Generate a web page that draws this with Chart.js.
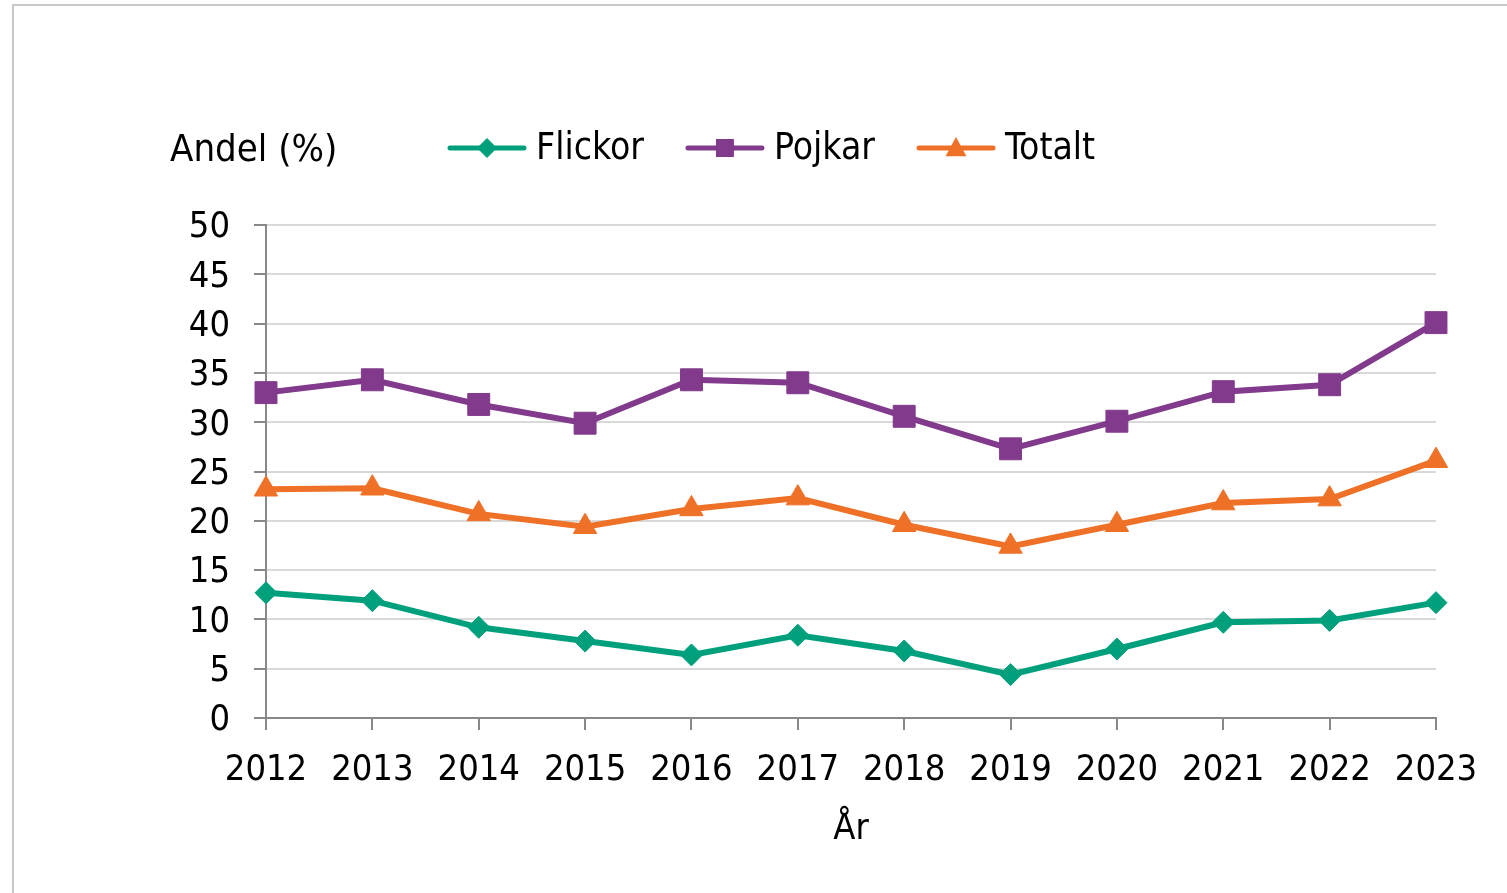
<!DOCTYPE html>
<html><head><meta charset="utf-8">
<script src="https://cdn.jsdelivr.net/npm/chart.js@4/dist/chart.umd.min.js"></script>
<style>
html,body{margin:0;padding:0;background:#fff;overflow:hidden}
#wrap{position:relative;width:1507px;height:893px;overflow:hidden}
#frame{position:absolute;left:12px;top:4px;width:1600px;height:1000px;border-left:2px solid #c8c8c8;border-top:2px solid #c8c8c8}
canvas{position:absolute;left:0;top:0}
</style></head><body>
<div id="wrap"><div id="frame"></div><canvas id="c" width="1507" height="893"></canvas></div>
<script>
const years = ['2012','2013','2014','2015','2016','2017','2018','2019','2020','2021','2022','2023'];
const flickor = [12.7, 11.9, 9.2, 7.8, 6.4, 8.4, 6.8, 4.4, 7.0, 9.7, 9.9, 11.7];
const pojkar  = [33.0, 34.3, 31.8, 29.9, 34.3, 34.0, 30.6, 27.3, 30.1, 33.1, 33.8, 40.1];
const totalt  = [23.2, 23.3, 20.7, 19.4, 21.2, 22.3, 19.6, 17.4, 19.6, 21.8, 22.2, 26.1];
const yTicks = [0, 5, 10, 15, 20, 25, 30, 35, 40, 45, 50];
const seriesNames = ['Flickor', 'Pojkar', 'Totalt'];
const yTitle = 'Andel (%)';
const xTitle = 'År';

const FONT = '"DejaVu Sans Condensed", "DejaVu Sans", Verdana, sans-serif';
const FS = 36;
const C_TEAL = '#00A07D', C_PURPLE = '#823A8C', C_ORANGE = '#EE7127';

function drawMarker(ctx, style, x, y, r, color) {
  ctx.fillStyle = color;
  ctx.beginPath();
  if (style === 'rectRot') {
    ctx.moveTo(x, y - r); ctx.lineTo(x + r, y); ctx.lineTo(x, y + r); ctx.lineTo(x - r, y);
  } else if (style === 'rect') {
    ctx.rect(x - r, y - r, 2 * r, 2 * r);
  } else if (style === 'triangle') {
    ctx.moveTo(x, y - r); ctx.lineTo(x + r * 0.95, y + r * 0.75); ctx.lineTo(x - r * 0.95, y + r * 0.75);
  }
  ctx.closePath();
  ctx.fill();
}

const legendPlugin = {
  id: 'customLegend',
  afterDraw(chart) {
    const ctx = chart.ctx;
    ctx.save();
    ctx.fillStyle = '#000';
    ctx.textBaseline = 'middle';
    ctx.textAlign = 'left';
    ctx.font = '38px ' + FONT;
    ctx.fillText(yTitle, 170, 151);
    ctx.font = '37px ' + FONT;
    let x = 447; const y = 148;
    const sizes = {rectRot: 10, rect: 9, triangle: 11};
    chart.data.datasets.forEach(ds => {
      ctx.strokeStyle = ds.borderColor; ctx.lineWidth = 5; ctx.lineCap = 'round';
      ctx.beginPath(); ctx.moveTo(x + 3, y); ctx.lineTo(x + 77, y); ctx.stroke();
      drawMarker(ctx, ds.pointStyle, x + 40, y, sizes[ds.pointStyle], ds.borderColor);
      ctx.fillStyle = '#000';
      ctx.fillText(ds.label, x + 89, y + 1);
      x += 89 + ctx.measureText(ds.label).width + 41;
    });
    ctx.restore();
  }
};

new Chart(document.getElementById('c'), {
  type: 'line',
  data: {
    labels: years,
    datasets: [
      {label: seriesNames[0], data: flickor, borderColor: C_TEAL, backgroundColor: C_TEAL, borderWidth: 6,
       pointStyle: 'rectRot', pointRadius: 11, pointBorderWidth: 1, tension: 0},
      {label: seriesNames[1], data: pojkar, borderColor: C_PURPLE, backgroundColor: C_PURPLE, borderWidth: 6,
       pointStyle: 'rect', pointRadius: 15.5, pointBorderWidth: 1, tension: 0},
      {label: seriesNames[2], data: totalt, borderColor: C_ORANGE, backgroundColor: C_ORANGE, borderWidth: 6,
       pointStyle: 'triangle', pointRadius: 13.5, pointBorderWidth: 1, tension: 0}
    ]
  },
  options: {
    responsive: false,
    animation: false,
    devicePixelRatio: 1,
    layout: {padding: {left: 0, right: 71, top: 225, bottom: 0}},
    plugins: {legend: {display: false}, tooltip: {enabled: false}, title: {display: false}},
    scales: {
      x: {
        type: 'category', offset: false,
        grid: {display: true, drawOnChartArea: false, drawTicks: true, tickLength: 12, color: '#888', tickColor: '#888', lineWidth: 2},
        border: {display: true, color: '#888', width: 2},
        ticks: {font: {family: FONT, size: FS}, color: '#000', padding: 19, maxRotation: 0, autoSkip: false},
        title: {display: true, text: xTitle, font: {family: FONT, size: FS}, color: '#000', padding: {top: 0, bottom: 42}},
        afterFit: s => { s.height = 175; }
      },
      y: {
        min: 0, max: 50,
        afterBuildTicks: s => { s.ticks = yTicks.map(v => ({value: v})); },
        grid: {color: '#d9d9d9', lineWidth: 2, tickLength: 12, tickColor: '#888', drawTicks: true},
        border: {display: true, color: '#888', width: 2},
        ticks: {font: {family: FONT, size: FS}, color: '#000', padding: 24, labelOffset: 3},
        afterFit: s => { s.width = 266; }
      }
    }
  },
  plugins: [legendPlugin]
});
</script>
</body></html>
